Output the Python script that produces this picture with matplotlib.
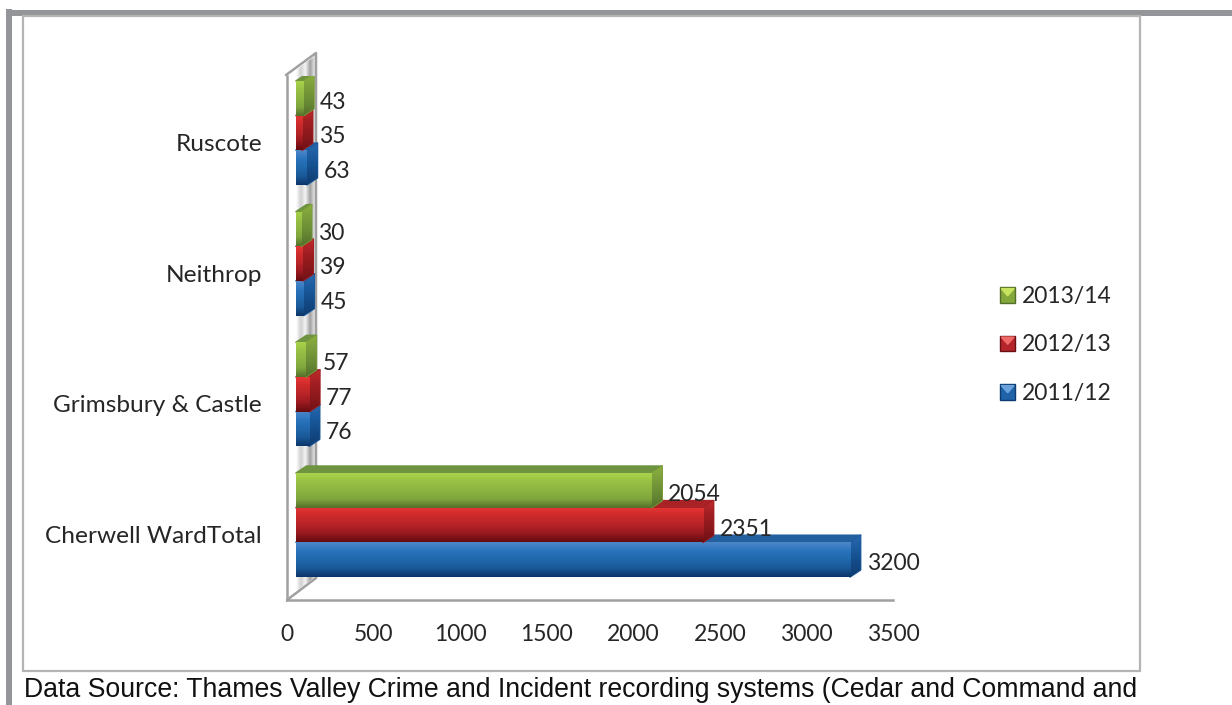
#! /usr/bin/python
# -*- coding: utf-8 -*-
import numpy as np
from matplotlib import pyplot as plt
from matplotlib.colors import LinearSegmentedColormap
from matplotlib.legend_handler import HandlerBase
from matplotlib.patches import Polygon, Rectangle

# data
wards = ['Cherwell WardTotal', 'Grimsbury & Castle', 'Neithrop', 'Ruscote']
years = ['2011/12', '2012/13', '2013/14']
v_2011 = [3200, 76, 45, 63]
v_2012 = [2351, 77, 39, 35]
v_2013 = [2054, 57, 30, 43]
xticks = [0, 500, 1000, 1500, 2000, 2500, 3000, 3500]

W, H = 1232, 705
plt.rcParams['font.family'] = ['Lato', 'DejaVu Sans']
LABEL_SIZE = 16.5
TEXT = '#262626'

# colours: gradient of front face (top to bottom), side, top
styles = {
    '2011/12': dict(front=['#4c86c8', '#2a74bc', '#2068ac', '#1a5898', '#0c3668'],
                    side=['#2a68ae', '#1a5a9e', '#134a86', '#0f3c70'], top='#22609f',
                    legend=['#6aa2dc', '#1f62a8', '#0e3a70']),
    '2012/13': dict(front=['#e83434', '#cc2a2a', '#b82428', '#98191f', '#640c10'],
                    side=['#c02a2c', '#a01e22', '#8a181c', '#701216'], top='#a82226',
                    legend=['#f06a6a', '#b42428', '#6a1014']),
    '2013/14': dict(front=['#a9d24a', '#98c044', '#8cb442', '#7fa53c', '#55702c'],
                    side=['#8cb040', '#7a9c3a', '#688a34', '#55702c'], top='#6f9440',
                    legend=['#c8e45e', '#84a83c', '#566f2a']),
}

fig = plt.figure(figsize=(W / 100, H / 100), dpi=100)

# frame, wall and source line are drawn in a pixel axes behind the chart
bg = fig.add_axes([0, 0, 1, 1])
bg.set_xlim(0, W)
bg.set_ylim(H, 0)
bg.axis('off')
bg.add_patch(Rectangle((6, 9), 6, H - 9, color='#939598', lw=0))
bg.add_patch(Rectangle((6, 10), W - 6, 6, color='#939598', lw=0))
bg.add_patch(Rectangle((23, 16), 1117, 655, fill=False, edgecolor='#b4b4b4', lw=1.6))
bg.text(24, 697, 'Data Source: Thames Valley Crime and Incident recording systems (Cedar and Command and',
        family='Liberation Sans', fontsize=19.2, color='#111111', va='baseline', ha='left')

strip = LinearSegmentedColormap.from_list('strip', ['#ffffff', '#d0d0d0', '#f4f4f4', '#a0a0a0', '#e8e8e8'])
im = bg.imshow(np.linspace(0, 1, 64).reshape(1, -1), cmap=strip, aspect='auto', extent=(296, 315, 592, 56))
im.set_clip_path(bg.add_patch(Polygon([(296, 70), (315, 56), (315, 577), (296, 591)], fc='none', ec='none')))
bg.set_xlim(0, W)
bg.set_ylim(H, 0)
wall = dict(color='#a0a0a0', lw=1.8, solid_capstyle='round')
bg.plot([286, 316, 316], [75, 53, 578], **wall)
bg.plot([287, 316], [600, 578], **wall)

# chart axes: x range sits on the floor line, y in group units
ax = fig.add_axes([287 / W, 1 - 600 / H, (893 - 287) / W, (600 - 76) / H])
ax.patch.set_alpha(0)
px_x = (893 - 287) / 3500
px_y = 130.7

start = 9 / px_x      # front face begins off the wall
dx = 10.5 / px_x      # depth of the bar
dy = 7 / px_y
height = 34.6 / px_y
y = np.arange(len(wards))


def shade(ax, patch, colors, extent, z):
    # vertical gradient clipped to a patch
    cmap = LinearSegmentedColormap.from_list('g', colors)
    grad = ax.imshow(np.linspace(0, 1, 64).reshape(-1, 1), cmap=cmap, aspect='auto',
                     extent=extent, origin='upper', zorder=z)
    grad.set_clip_path(patch)


# later years sit on top of the earlier one's top face
z = 3
for i, (year, vals) in enumerate(zip(years, [v_2011, v_2012, v_2013])):
    st = styles[year]
    ypos = y + (i - 1) * height
    for yy, v in zip(ypos, vals):
        x0 = start + v
        lo, hi = yy - height / 2, yy + height / 2
        ax.fill([start, x0, x0 + dx, start + dx], [hi, hi, hi + dy, hi + dy],
                color=st['top'], lw=1.2, zorder=z, joinstyle='round')
        side = ax.fill([x0, x0 + dx, x0 + dx, x0], [lo, lo + dy, hi + dy, hi],
                       color=st['side'][1], lw=1.2, zorder=z, joinstyle='round')[0]
        shade(ax, side, st['side'], (x0, x0 + dx, lo, hi + dy), z)
        bar = ax.barh(yy, v, height=height, left=start, color=st['front'][2], lw=0, zorder=z)[0]
        shade(ax, bar, st['front'], (start, x0, lo, hi), z)
        ax.text(x0 + dx + 6 / px_x, yy - 4 / px_y, str(v), fontsize=LABEL_SIZE, color=TEXT,
                va='center', ha='left', zorder=10)
    z += 1
ax.set_xlim(0, 3500)
ax.set_ylim(-75 / px_y, 449 / px_y)

for s in ['top', 'right']:
    ax.spines[s].set_visible(False)
for s in ['left', 'bottom']:
    ax.spines[s].set_color('#a0a0a0')
    ax.spines[s].set_linewidth(1.8)
ax.set_xticks(xticks)
ax.set_yticks(y - 9.5 / px_y)
ax.set_yticklabels(wards)
ax.tick_params(axis='x', length=0, pad=17, labelsize=LABEL_SIZE, labelcolor=TEXT)
ax.tick_params(axis='y', length=0, pad=18, labelsize=17.6, labelcolor=TEXT)


class BevelHandler(HandlerBase):
    # bevelled square swatch, as the 3D legend keys
    def create_artists(self, legend, orig, xd, yd, width, height, fontsize, trans):
        c = styles[orig.get_label()]['legend']
        x0, y0 = -xd, -yd + (height - width) / 2
        x1, y1 = x0 + width, y0 + width
        mx, my = (x0 + x1) / 2, y0 + width * 0.45
        parts = [([(x0, y0), (x1, y0), (x1, y1), (x0, y1)], c[1], c[2]),
                 ([(x0 + 1, y1 - 1), (x1 - 1, y1 - 1), (mx, my)], c[0], c[0])]
        return [Polygon(p, fc=f, ec=e, lw=1.0, transform=trans) for p, f, e in parts]


handles = [Rectangle((0, 0), 1, 1, label=yr) for yr in years[::-1]]
fig.legend(handles=handles, labels=years[::-1], handler_map={Rectangle: BevelHandler()},
           loc='center left', bbox_to_anchor=(993 / W, 1 - 345 / H), frameon=False,
           fontsize=LABEL_SIZE, labelcolor=TEXT, labelspacing=1.2, handlelength=0.68,
           handletextpad=0.3, borderpad=0.3, borderaxespad=0)

plt.savefig('out.png', dpi=100)
